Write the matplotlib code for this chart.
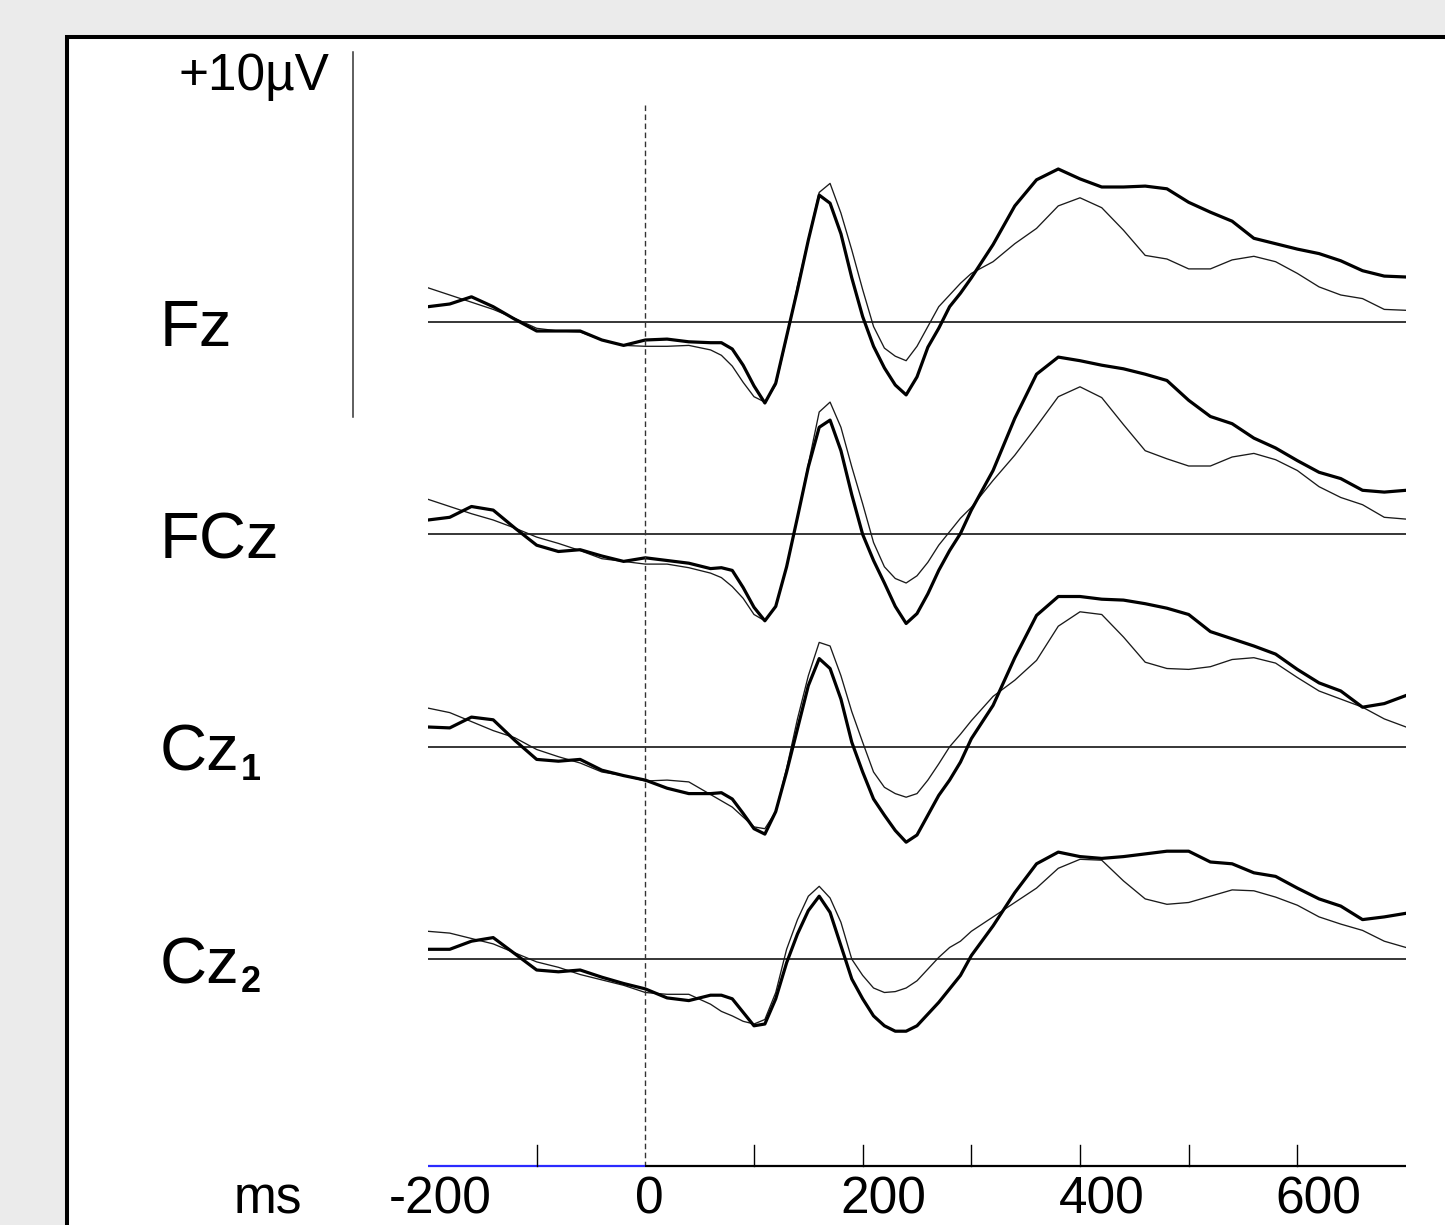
import numpy as np
import matplotlib
matplotlib.use("Agg")
import matplotlib.pyplot as plt
from matplotlib.patches import Rectangle
from matplotlib.lines import Line2D

plt.rcParams['font.family'] = ['Liberation Sans', 'DejaVu Sans']

# time points (ms)
t = [-200, -180, -160, -140, -120, -100, -80, -60, -40, -20, 0, 20, 40, 60,
     70, 80, 90, 100, 110, 120, 130, 140, 150, 160, 170, 180, 190, 200, 210, 220, 230, 240, 250, 260, 270, 280, 290, 300,
     320, 340, 360, 380, 400, 420, 440, 460, 480, 500, 520, 540, 560, 580, 600, 620, 640, 660, 680, 700]

channels = ['Fz', 'FCz', 'Cz', 'Cz']
subscripts = ['', '', '1', '2']

# amplitudes in microvolts, thick = condition A, thin = condition B
fz_thick = [0.85, 1.0, 1.4, 0.85, 0.15, -0.5, -0.5, -0.5, -1.0, -1.3, -1.0, -0.95, -1.1, -1.15,
            -1.15, -1.5, -2.4, -3.55, -4.5, -3.4, -0.8, 1.8, 4.55, 7.05, 6.6, 4.9, 2.45, 0.3, -1.35, -2.55, -3.5, -4.05, -3.05, -1.4, -0.35, 0.85, 1.6, 2.45,
            4.3, 6.45, 7.9, 8.5, 7.95, 7.5, 7.5, 7.55, 7.4, 6.65, 6.1, 5.6, 4.65, 4.35, 4.05, 3.8, 3.4, 2.85, 2.55, 2.5]
fz_thin = [1.9, 1.5, 1.1, 0.7, 0.2, -0.35, -0.5, -0.55, -1.0, -1.3, -1.35, -1.35, -1.3, -1.55,
           -1.85, -2.45, -3.35, -4.15, -4.45, -3.5, -0.9, 2.0, 4.6, 7.2, 7.7, 6.05, 4.0, 1.8, -0.25, -1.45, -1.9, -2.15, -1.35, -0.25, 0.85, 1.5, 2.15, 2.7,
           3.35, 4.35, 5.2, 6.45, 6.9, 6.35, 5.1, 3.7, 3.5, 2.95, 2.95, 3.45, 3.65, 3.35, 2.7, 1.95, 1.5, 1.3, 0.7, 0.65]

fcz_thick = [0.8, 0.95, 1.55, 1.35, 0.35, -0.6, -0.95, -0.85, -1.2, -1.5, -1.3, -1.45, -1.6, -1.9,
             -1.85, -2.0, -2.95, -4.05, -4.8, -4.0, -1.8, 0.95, 3.75, 5.95, 6.35, 4.65, 2.2, 0.0, -1.45, -2.7, -4.0, -4.95, -4.4, -3.3, -2.0, -0.9, 0.05, 1.35,
             3.55, 6.45, 8.9, 9.85, 9.65, 9.4, 9.2, 8.9, 8.55, 7.45, 6.55, 6.15, 5.35, 4.8, 4.1, 3.45, 3.1, 2.45, 2.35, 2.45]
fcz_thin = [1.95, 1.55, 1.15, 0.8, 0.35, -0.15, -0.5, -0.9, -1.35, -1.5, -1.65, -1.65, -1.85, -2.15,
            -2.4, -2.9, -3.55, -4.45, -4.8, -4.0, -1.8, 0.95, 3.9, 6.8, 7.35, 5.95, 3.75, 1.7, -0.45, -1.8, -2.45, -2.7, -2.3, -1.55, -0.6, 0.15, 0.9, 1.5,
            3.0, 4.4, 6.0, 7.65, 8.2, 7.6, 6.1, 4.65, 4.2, 3.8, 3.8, 4.3, 4.5, 4.15, 3.55, 2.65, 2.05, 1.65, 0.95, 0.85]

cz1_thick = [1.1, 1.05, 1.65, 1.5, 0.35, -0.7, -0.8, -0.7, -1.3, -1.6, -1.85, -2.3, -2.6, -2.6,
             -2.55, -2.9, -3.7, -4.55, -4.85, -3.6, -1.4, 1.0, 3.4, 4.9, 4.35, 2.65, 0.25, -1.4, -2.9, -3.8, -4.65, -5.3, -4.9, -3.8, -2.7, -1.85, -0.85, 0.45,
             2.3, 4.95, 7.3, 8.35, 8.35, 8.2, 8.15, 7.95, 7.7, 7.35, 6.4, 6.0, 5.6, 5.15, 4.3, 3.55, 3.1, 2.2, 2.4, 2.85]
cz1_thin = [2.15, 1.9, 1.4, 0.9, 0.5, -0.15, -0.55, -0.9, -1.4, -1.6, -1.9, -1.85, -1.95, -2.65,
            -3.0, -3.35, -3.9, -4.45, -4.55, -3.6, -1.2, 1.55, 3.95, 5.8, 5.6, 3.95, 1.95, 0.25, -1.4, -2.25, -2.6, -2.8, -2.6, -1.85, -0.95, 0.0, 0.7, 1.45,
            2.8, 3.7, 4.8, 6.7, 7.5, 7.35, 6.1, 4.7, 4.35, 4.3, 4.45, 4.85, 4.95, 4.65, 3.85, 3.1, 2.65, 2.2, 1.55, 1.1]

cz2_thick = [0.55, 0.55, 1.0, 1.2, 0.3, -0.6, -0.7, -0.6, -1.0, -1.35, -1.65, -2.15, -2.3, -2.0,
             -2.0, -2.2, -2.95, -3.7, -3.6, -2.2, -0.2, 1.4, 2.7, 3.5, 2.6, 0.75, -1.1, -2.2, -3.15, -3.7, -4.0, -4.0, -3.7, -3.05, -2.4, -1.65, -0.9, 0.2,
             1.85, 3.7, 5.3, 5.95, 5.7, 5.6, 5.7, 5.85, 6.0, 6.0, 5.4, 5.3, 4.8, 4.6, 3.95, 3.35, 2.95, 2.2, 2.35, 2.55]
cz2_thin = [1.55, 1.45, 1.15, 0.85, 0.35, -0.15, -0.45, -0.85, -1.15, -1.45, -1.85, -1.95, -1.95, -2.5,
            -2.9, -3.15, -3.45, -3.6, -3.35, -1.85, 0.55, 2.2, 3.5, 4.05, 3.4, 2.05, 0.0, -0.9, -1.6, -1.85, -1.8, -1.6, -1.2, -0.55, 0.1, 0.65, 1.0, 1.55,
            2.35, 3.15, 3.95, 5.05, 5.55, 5.5, 4.35, 3.35, 3.05, 3.15, 3.5, 3.85, 3.8, 3.45, 3.0, 2.35, 1.95, 1.6, 1.0, 0.65]

thick = [fz_thick, fcz_thick, cz1_thick, cz2_thick]
thin = [fz_thin, fcz_thin, cz1_thin, cz2_thin]

tick_ms = [-100, 100, 200, 300, 400, 500, 600]
label_ms = [-200, 0, 200, 400, 600]

# layout (pixels of the 1445x1225 picture)
W, H = 1445, 1225
PX_PER_UV = 18.0
Y0 = 322                      # zero line of first channel
SPACING = 11.8                # uV between channels
AXIS_Y = 1166


def ypx(p):
    return (Y0 - p) / PX_PER_UV


fig = plt.figure(figsize=(W / 100, H / 100), dpi=100, facecolor='#ebebeb')

# white panel with black frame (cut by the right and bottom edges)
fig.add_artist(Rectangle((67 / W, -20 / H), (W + 20 - 67) / W, (H + 20 - 37) / H,
                         transform=fig.transFigure, facecolor='white',
                         edgecolor='black', linewidth=2.9, zorder=-10))

ax = fig.add_axes([428 / W, 0, (1406 - 428) / W, 1])
ax.set_xlim(-200, 700)
ax.set_ylim(ypx(H), ypx(0))
ax.axis('off')
ax.patch.set_alpha(0)

for i in range(4):
    off = -i * SPACING
    ax.plot([-200, 700], [off, off], color='black', lw=1.1, solid_capstyle='butt')
    ax.plot(t, np.array(thin[i]) + off, color='#1a1a1a', lw=0.95,
            solid_joinstyle='round')
    ax.plot(t, np.array(thick[i]) + off, color='black', lw=2.3,
            solid_joinstyle='round')
    base_px = Y0 + i * SPACING * PX_PER_UV
    fig.text(160 / W, 1 - (base_px + 24) / H, channels[i], fontsize=47,
             va='baseline', ha='left')
    if subscripts[i]:
        fig.text(241 / W, 1 - (base_px + 33) / H, subscripts[i], fontsize=26,
                 fontweight='bold', va='baseline', ha='left')

# stimulus onset
ax.plot([0, 0], [ypx(105), ypx(AXIS_Y)], color='#333333', lw=1.0,
        ls=(0, (4, 2.5)))

# time axis
ax.plot([-200, 0], [ypx(AXIS_Y)] * 2, color='#2b2bff', lw=1.6, solid_capstyle='butt')
ax.plot([0, 700], [ypx(AXIS_Y)] * 2, color='black', lw=1.6, solid_capstyle='butt')
for tk in tick_ms:
    ax.plot([tk, tk], [ypx(AXIS_Y), ypx(AXIS_Y - 21)], color='black', lw=1.0)
label_shift = [11, 4, 19, 20, 19]
for lab, sh in zip(label_ms, label_shift):
    ax.text(lab + sh, ypx(1225), str(lab), fontsize=37, ha='center', va='bottom')
fig.text(268 / W, 1 - 1225 / H, 'ms', fontsize=37, ha='center', va='bottom')

# amplitude scale bar
fig.add_artist(Line2D([353 / W, 353 / W], [1 - 52 / H, 1 - 417 / H],
                      transform=fig.transFigure, color='#333333', lw=1.1))
fig.text(329 / W, 1 - 90 / H, '+10µV', fontsize=37, ha='right', va='baseline')

fig.savefig('out.png', dpi=100, facecolor=fig.get_facecolor())
